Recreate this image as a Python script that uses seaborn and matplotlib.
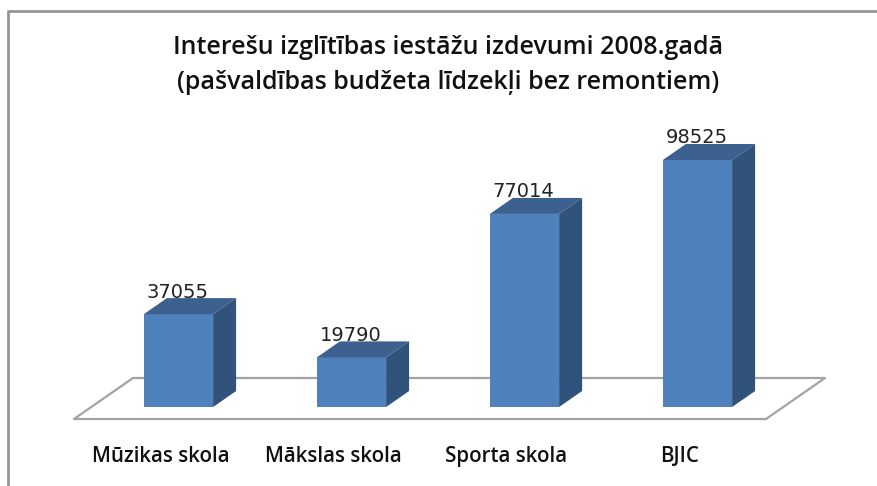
#!/usr/bin/env python
# coding: utf-8

import pandas as pd
import seaborn as sns
from matplotlib import pyplot as plt
from matplotlib.patches import Polygon
from matplotlib.lines import Line2D
from matplotlib.transforms import Affine2D, ScaledTranslation

categories = ["Mūzikas skola", "Mākslas skola", "Sporta skola", "BJIC"]
values = [37055, 19790, 77014, 98525]
title = "Interešu izglītības iestāžu izdevumi 2008.gadā\n(pašvaldības budžeta līdzekļi bez remontiem)"

front_color = "#4f81bd"
top_color = "#3c618f"
side_color = "#31527a"
floor_color = "#a3a3a3"
border_color = "#969696"

W, H = 877, 486
sns.set_theme(style="white")
plt.rcParams["font.family"] = ["Open Sans", "DejaVu Sans"]

f = plt.figure(figsize=(W / 100, H / 100), dpi=100)
# axes placed so one category is 173 px and the value axis is 247 px per 98525
ax = f.add_axes([92 / W, 1 - 407 / H, 692 / W, 250.7 / H])
px = Affine2D().scale(1 / W, -1 / H).translate(0, 1) + f.transFigure

# floor and outer frame sit behind everything
floor = [(133, 378), (825, 378), (766, 419), (74, 419), (133, 378)]
ax.add_artist(
    Line2D(*zip(*floor), transform=px, color=floor_color, lw=1.6, zorder=0, clip_on=False)
)
frame = [(8, 486), (8, 11), (877, 11)]
ax.add_artist(
    Line2D(*zip(*frame), transform=px, color=border_color, lw=2, zorder=0, clip_on=False)
)

df = pd.DataFrame({"category": categories, "value": values})
sns.barplot(
    ax=ax, data=df, x="category", y="value", color=front_color,
    saturation=1, width=0.4, zorder=3, linewidth=0,
)
ax.set_xlim(-0.5, 3.5)
ax.set_ylim(0, 100000)

# depth of the 3d look, px converted to data units
dx = 23 / 173
dy = 16 * 100000 / 250.7

for bar, v in zip(ax.patches, values):
    x0 = bar.get_x()
    x1 = x0 + bar.get_width()
    ax.add_patch(
        Polygon([(x0, v), (x1, v), (x1 + dx, v + dy), (x0 + dx, v + dy)],
                color=top_color, zorder=3, clip_on=False, lw=0)
    )
    ax.add_patch(
        Polygon([(x1, 0), (x1 + dx, dy), (x1 + dx, v + dy), (x1, v)],
                color=side_color, zorder=3, clip_on=False, lw=0)
    )
    ax.annotate(
        str(v), (x0 + bar.get_width() / 2, v), xytext=(-1, 22), textcoords="offset pixels",
        ha="center", va="center", fontsize=14, family="DejaVu Sans", color="#222222", zorder=4,
    )

ax.set_xlabel("")
ax.set_ylabel("")
ax.set_yticks([])
ax.tick_params(axis="x", length=0, pad=28, labelsize=14.8, labelcolor="#111111")
# category labels follow the front edge of the floor, not the bars
shift = ScaledTranslation(-18 / 100, 0, f.dpi_scale_trans)
for label in ax.get_xticklabels():
    label.set_transform(label.get_transform() + shift)
    label.set_fontweight("semibold")
sns.despine(f, left=True, bottom=True)
ax.patch.set_alpha(0)

f.text(448 / W, 1 - 65 / H, title, ha="center", va="center", fontsize=18,
       fontweight="semibold", color="#111111", linespacing=1.5)

f.savefig("out.png", dpi=100)
